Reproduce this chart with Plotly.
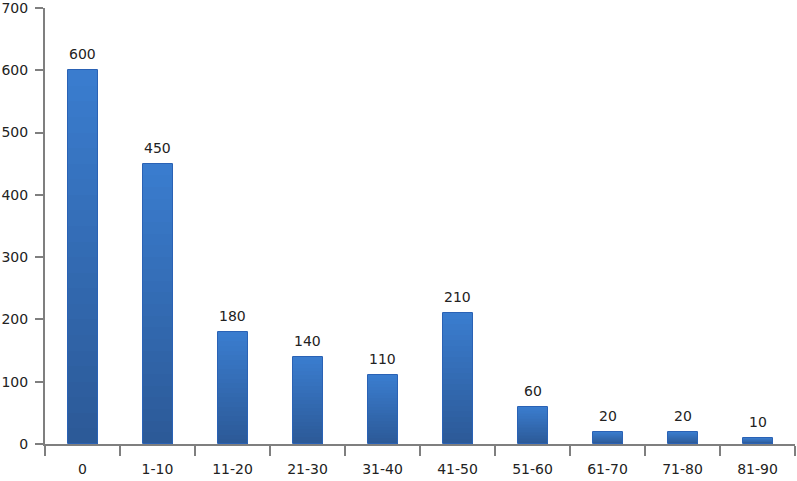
import plotly.graph_objects as go

categories = ["0", "1-10", "11-20", "21-30", "31-40", "41-50", "51-60", "61-70", "71-80", "81-90"]
values = [600, 450, 180, 140, 110, 210, 60, 20, 20, 10]
y_ticks = [0, 100, 200, 300, 400, 500, 600, 700]

FONT = "DejaVu Sans"
top_rgb = (58, 124, 206)
bot_rgb = (44, 90, 152)
N = 24

fig = go.Figure()
# per-bar vertical gradient: overlay progressively shorter, darker bars
for k in range(N, 0, -1):
    t = (k - 1) / (N - 1)  # 1 at top (tallest, lightest)
    c = tuple(round(bot_rgb[i] + (top_rgb[i] - bot_rgb[i]) * t) for i in range(3))
    fig.add_trace(go.Bar(
        x=categories, y=[v * k / N for v in values], width=0.4,
        marker=dict(color="rgb(%d,%d,%d)" % c, line=dict(width=0)),
        hoverinfo="skip", showlegend=False,
    ))
# outline
fig.add_trace(go.Bar(
    x=categories, y=values, width=0.4,
    marker=dict(color="rgba(0,0,0,0)", line=dict(color="#2a62b5", width=1)),
    showlegend=False,
))

for c, v in zip(categories, values):
    fig.add_annotation(x=c, y=v, text=str(v), showarrow=False, yanchor="bottom",
                       yshift=6, font=dict(family=FONT, size=14, color="#222222"))

axis_color = "#7f7f7f"
fig.update_layout(
    width=797, height=481,
    margin=dict(l=45, r=2, t=8, b=37, autoexpand=False),
    paper_bgcolor="white", plot_bgcolor="white",
    barmode="overlay", bargap=0,
    font=dict(family=FONT, size=14, color="#222222"),
    xaxis=dict(
        type="category", tickson="boundaries", ticks="outside", ticklen=10,
        tickwidth=2, tickcolor=axis_color, showline=True, linecolor=axis_color,
        linewidth=2, showgrid=False, zeroline=False, ticklabelstandoff=11,
        automargin=False, ticklabeloverflow="allow",
        tickfont=dict(family=FONT, size=14, color="#222222"),
    ),
    yaxis=dict(
        range=[0, 700], tickvals=y_ticks, ticks="outside", ticklen=8, tickwidth=2,
        tickcolor=axis_color, showline=True, linecolor=axis_color, linewidth=2,
        showgrid=False, zeroline=False, ticklabelstandoff=4, automargin=False,
        ticklabeloverflow="allow",
        tickfont=dict(family=FONT, size=14, color="#222222"),
    ),
)

fig.write_html("out.html", config={"displayModeBar": False},
               post_script="document.body.style.margin='0';")
